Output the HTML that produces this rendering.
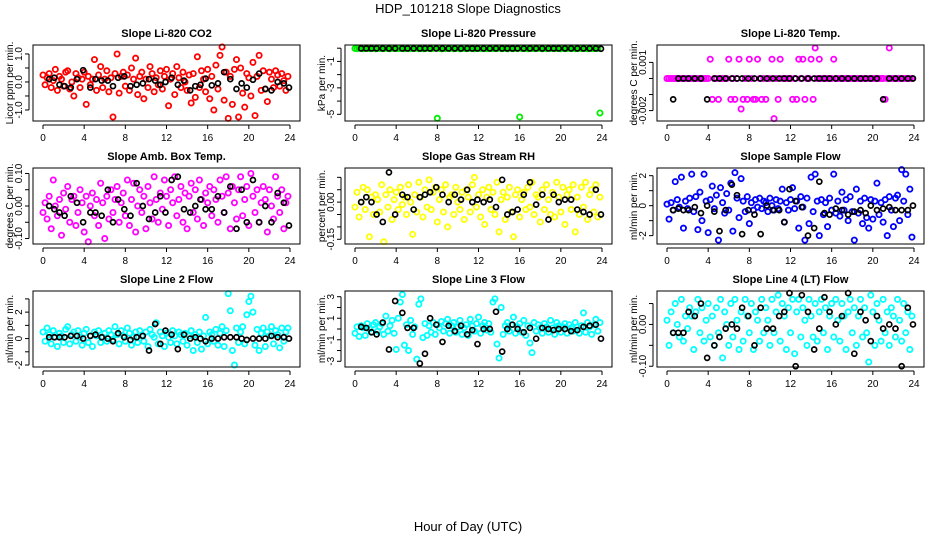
<!DOCTYPE html>
<html><head><meta charset="utf-8"><style>
body{margin:0;background:#fff;}
svg{display:block;font-family:"Liberation Sans",sans-serif;}
</style></head><body>
<svg id="chart" width="936" height="540" viewBox="0 0 936 540">
<text x="468" y="13" text-anchor="middle" font-size="13">HDP_101218  Slope Diagnostics</text>
<text x="468" y="531" text-anchor="middle" font-size="13">Hour of Day (UTC)</text>
</svg>
<script>
const hours=[0.0,0.2,0.4,0.6,0.8,1.0,1.2,1.4,1.6,1.8,2.0,2.2,2.4,2.6,2.8,3.0,3.2,3.4,3.6,3.8,4.0,4.2,4.4,4.6,4.8,5.0,5.2,5.4,5.6,5.8,6.0,6.2,6.4,6.6,6.8,7.0,7.2,7.4,7.6,7.8,8.0,8.2,8.4,8.6,8.8,9.0,9.2,9.4,9.6,9.8,10.0,10.2,10.4,10.6,10.8,11.0,11.2,11.4,11.6,11.8,12.0,12.2,12.4,12.6,12.8,13.0,13.2,13.4,13.6,13.8,14.0,14.2,14.4,14.6,14.8,15.0,15.2,15.4,15.6,15.8,16.0,16.2,16.4,16.6,16.8,17.0,17.2,17.4,17.6,17.8,18.0,18.2,18.4,18.6,18.8,19.0,19.2,19.4,19.6,19.8,20.0,20.2,20.4,20.6,20.8,21.0,21.2,21.4,21.6,21.8,22.0,22.2,22.4,22.6,22.8,23.0,23.2,23.4,23.6,23.8];
const blackHours=[0.6,1.1,1.6,2.1,2.7,3.3,3.9,4.6,5.1,5.7,6.3,6.8,7.3,7.9,8.5,9.1,9.7,10.3,10.9,11.4,11.9,12.5,13.1,13.7,14.3,14.8,15.3,15.8,16.4,17.0,17.6,18.2,18.8,19.3,19.8,20.4,21.0,21.6,22.2,22.8,23.4,23.9];
const xTicks=[0,4,8,12,16,20,24];

const co2=[0.25,-0.1,0.15,0.3,-0.2,0.05,0.45,-0.3,0.2,0.1,-0.15,0.35,
0.4,-0.25,0.0,-0.5,0.3,0.15,-0.2,0.1,0.35,-0.8,0.2,-0.1,
0.1,0.8,-0.3,0.25,0.55,-0.2,0.1,0.4,-0.35,0.15,-1.25,0.3,
1.0,-0.4,0.2,0.35,-0.15,0.25,-0.3,0.5,0.1,0.85,-0.45,0.2,
0.35,-0.6,0.1,-0.2,0.55,0.3,-0.35,0.15,-0.1,0.4,-0.25,0.2,
0.45,-0.85,0.1,0.3,-0.45,0.55,0.15,-0.2,0.35,0.0,-0.3,0.25,
-0.75,0.3,-0.55,0.9,-0.2,0.4,0.1,-0.35,0.45,-0.6,0.2,-1.0,
0.6,-0.25,0.95,1.25,-0.65,0.35,-1.3,0.2,-0.8,0.45,0.8,-1.25,
0.5,-0.4,-0.9,0.3,0.15,-0.5,0.7,-1.2,0.2,0.95,-0.3,0.4,
-0.25,-0.7,0.35,0.1,-0.2,0.4,0.25,-0.15,0.3,0.05,-0.3,0.2];
const co2Black=[0.1,0.15,-0.1,-0.15,-0.2,0.1,0.42,-0.2,0.1,0.05,0.05,-0.15,0.15,0.2,-0.15,-0.1,-0.05,0.1,0.05,-0.1,0.0,0.15,-0.1,0.05,-0.3,-0.15,-0.1,0.12,-0.12,-0.05,0.35,0.1,-0.25,-0.05,-0.2,0.08,0.3,-0.25,-0.3,0.0,-0.05,-0.2];

const pressure=[-0.02,-0.03,0,-0.01,-0.04,-0.02,0,-0.03,-0.01,-0.02,-0.04,0,
-0.02,-0.01,-0.03,0,-0.02,-0.04,-0.01,-0.02,0,-0.03,-0.02,-0.01,
-0.04,0,-0.02,-0.03,-0.01,-0.02,0,-0.03,-0.02,-0.04,-0.01,0,
-0.02,-0.03,-0.01,0,-5.3,-0.02,-0.04,-0.01,-0.03,0,-0.02,-0.01,
-0.03,-0.02,0,-0.04,-0.01,-0.02,-0.03,0,-0.02,-0.01,-0.04,-0.02,
0,-0.03,-0.01,-0.02,-0.04,0,-0.02,-0.03,-0.01,-0.02,0,-0.03,
-0.02,-0.01,-0.04,0,-0.02,-0.03,-0.01,-0.02,-5.2,-0.03,-0.02,-0.01,
-0.04,0,-0.02,-0.03,-0.01,0,-0.02,-0.04,-0.01,-0.03,0,-0.02,
-0.01,-0.03,-0.02,0,-0.04,-0.01,-0.02,-0.03,0,-0.02,-0.01,-0.04,
-0.02,0,-0.03,-0.01,-0.02,-0.04,0,-0.02,-0.03,-0.01,-0.02,-4.9];
const pressureBlack=[-0.02,-0.02,-0.02,-0.02,-0.02,-0.02,-0.02,-0.02,-0.02,-0.02,-0.02,-0.02,-0.02,-0.02,-0.02,-0.02,-0.02,-0.02,-0.02,-0.02,-0.02,-0.02,-0.02,-0.02,-0.02,-0.02,-0.02,-0.02,-0.02,-0.02,-0.02,-0.02,-0.02,-0.02,-0.02,-0.02,-0.02,-0.02,-0.02,-0.02,-0.02,-0.04];

const liTemp=[0,0,0,0,0,0,0,0,0,0,0,0,
0,0,0,0,0,0,0,0,0,0.0012,-0.0013,0,
0,-0.0013,0,0,0,0,0.0012,-0.0013,0,-0.0013,0,0.0012,
-0.0019,-0.0013,0,-0.0013,0.0012,0,-0.0013,-0.0013,0.0012,0,-0.0013,0,
-0.0013,0,0,0.0012,-0.0025,0,-0.0013,0.0012,0,0,0,0,
0,-0.0013,0,-0.0013,0.0012,0,0.0012,-0.0013,0,0,0.0012,-0.0013,
0.0019,0,0.0012,0,0,0,0,0,0,0.0012,0,0,
0,0,0,0,0,0,0,0,0,0,0,0,
0,0,0,0,0,0,0,0,0,0,-0.0013,0,
0.0019,0,0,0,0,0,0,0,0,0,0,0];
const liTempBlack=[-0.0013,0,0,0,0,0,-0.0013,0,0,0,0,0,0,0,0,0,0,0,0,0,0,0,0,0,0,0,0,0,0,0,0,0,0,0,0,0,-0.0013,0,0,0,0,0];

const ambTemp=[-0.02,0.01,-0.04,0.03,-0.07,0.08,0.0,-0.03,0.02,-0.09,0.04,-0.01,
0.06,-0.05,0.02,0.03,-0.06,-0.02,0.05,0.01,-0.08,0.03,-0.11,0.0,
0.04,-0.03,0.02,-0.06,0.07,0.01,-0.1,0.03,-0.04,0.05,-0.02,0.02,
0.06,-0.05,0.01,0.04,-0.03,0.08,-0.06,0.02,0.07,-0.08,0.0,0.05,
-0.02,0.03,-0.07,0.06,0.01,-0.04,0.09,0.02,-0.05,0.04,-0.01,0.08,
0.03,-0.06,0.05,0.01,0.09,-0.03,0.02,0.06,-0.05,0.04,-0.07,0.03,
0.07,-0.02,0.05,-0.04,0.08,0.02,-0.06,0.04,0.01,0.06,-0.03,0.05,
0.02,-0.05,0.08,0.03,-0.02,0.09,0.04,-0.07,0.06,0.01,-0.04,0.05,
0.09,-0.03,0.02,0.06,-0.06,0.1,0.03,-0.02,0.05,-0.05,0.01,0.06,
0.02,-0.08,0.05,0.0,-0.04,0.09,0.03,-0.02,0.05,-0.07,0.01,0.03];
const ambTempBlack=[0.0,-0.01,-0.02,-0.03,0.03,0.01,-0.05,-0.02,-0.02,-0.03,0.05,-0.05,0.02,-0.01,-0.03,0.07,0.0,-0.04,-0.02,0.03,-0.02,0.08,0.09,-0.01,-0.02,0.0,0.02,-0.01,-0.01,0.03,-0.02,0.06,-0.07,0.05,-0.05,0.08,-0.05,0.0,-0.05,0.04,0.01,-0.06];

const gasRH=[-0.02,0.04,-0.06,0.0,0.06,-0.03,0.05,-0.14,0.02,-0.05,0.03,0.01,
-0.04,0.07,-0.16,0.03,-0.02,0.05,-0.07,0.01,0.04,-0.03,0.06,-0.01,
0.02,-0.05,0.07,0.0,-0.13,0.03,-0.04,0.08,0.02,-0.06,0.05,-0.02,
0.09,-0.03,0.04,0.06,-0.08,0.01,0.05,-0.04,0.07,-0.1,0.02,0.03,
-0.05,0.06,0.0,-0.03,0.04,-0.07,0.05,0.02,-0.04,0.07,0.1,-0.02,
0.03,-0.06,0.05,-0.09,0.02,0.06,-0.03,0.04,-0.05,0.08,-0.12,0.01,
0.04,-0.07,0.02,0.06,-0.04,-0.14,0.03,0.05,-0.06,0.01,0.04,-0.03,
0.06,-0.02,0.08,-0.05,0.03,0.02,-0.08,0.05,-0.03,0.07,0.01,-0.05,
0.04,-0.06,0.08,0.02,-0.04,0.06,-0.09,0.03,0.05,-0.03,0.07,-0.12,
0.02,-0.05,0.06,-0.02,0.08,-0.07,0.03,0.05,-0.04,0.07,-0.06,0.02];
const gasRHBlack=[0.0,0.02,0.0,-0.05,-0.08,0.12,-0.05,0.03,0.02,-0.03,0.02,0.03,0.04,0.06,0.03,0.0,0.03,0.01,0.05,0.0,0.01,0.0,0.01,-0.02,0.09,-0.05,-0.04,-0.03,0.03,0.08,-0.01,0.03,-0.07,0.03,0.0,0.01,0.01,-0.03,-0.04,-0.05,0.05,-0.05];

const sampleFlow=[0.1,-0.9,0.2,-0.3,1.6,0.4,-0.1,1.9,-1.5,0.3,-0.2,0.5,
2.1,-0.4,0.6,-1.6,0.9,-1.0,2.1,0.3,-1.8,0.4,1.3,-0.2,
0.7,-2.3,1.2,0.2,-0.5,0.8,-0.3,1.5,-1.7,2.2,0.5,-0.8,
1.8,0.3,-0.4,0.6,-1.2,0.2,-0.3,0.4,-0.1,0.5,-0.2,0.3,
0.2,-0.4,0.5,0.0,-0.3,0.4,-0.2,0.3,1.1,-1.1,0.2,-0.3,
0.4,1.2,-0.2,0.3,-1.5,0.6,-0.1,-2.3,0.5,-1.2,1.9,-0.4,
2.1,0.3,-2.0,0.4,-0.6,0.2,-1.4,0.5,-0.3,2.1,-0.5,0.3,
-0.7,0.9,-0.3,0.4,-1.0,0.6,-0.4,-2.3,1.1,-0.5,0.3,-1.2,
0.5,-0.8,-1.5,0.4,-0.9,0.3,1.5,-0.6,0.2,-1.1,0.4,-2.0,
0.6,-0.3,-1.4,0.5,0.7,-1.0,2.4,0.3,2.1,-0.6,1.1,-2.1];
const sampleFlowBlack=[-0.3,-0.2,-0.3,-0.3,-0.1,-0.5,0.0,-0.4,-1.7,-0.3,1.4,0.7,-1.9,-0.3,-0.6,-1.9,0.0,-0.3,-0.3,-1.1,1.1,0.3,-0.1,-2.0,-1.5,1.6,-0.5,-0.6,-0.2,-0.3,-0.6,-0.4,-0.3,-0.5,0.0,-0.3,-0.2,-0.1,-0.3,-0.3,-0.3,0.0];

const line2=[0.5,-0.2,0.8,0.3,-0.4,0.6,0.1,-0.6,0.4,0.2,-0.3,0.7,
0.9,-0.4,0.3,0.5,-0.2,0.6,0.1,-0.5,0.4,0.7,-0.3,0.2,
-0.6,0.5,0.2,0.6,-0.3,0.1,0.4,-0.2,0.6,0.3,-0.1,0.9,
0.3,-0.4,0.6,0.2,-0.2,0.8,0.4,-0.5,0.1,0.5,-0.3,0.6,
0.2,-0.2,0.5,-0.6,0.7,0.3,0.1,1.2,-0.4,0.5,0.2,-0.6,
0.4,0.1,-0.3,0.6,0.2,-0.4,0.5,0.3,-0.2,0.4,-0.5,0.2,
0.6,-0.9,0.3,-0.3,0.5,-0.8,0.2,1.6,-0.4,0.5,0.3,-0.2,
0.7,-0.5,0.4,0.9,-0.6,0.6,3.4,2.1,-0.9,-2.0,0.8,-0.3,
0.5,0.9,-0.4,1.8,2.8,3.2,2.0,-0.5,0.7,-0.9,0.4,0.8,
-0.6,0.5,0.2,0.9,-0.4,0.6,0.3,-0.7,0.8,-0.2,0.5,0.8];
const line2Black=[0.1,0.1,0.1,0.1,0.2,0.2,0.0,0.2,0.3,0.1,0.0,-0.2,0.4,0.1,-0.1,0.1,0.2,-0.9,1.1,-0.4,0.6,0.3,-0.8,0.3,0.0,0.1,0.0,-0.2,0.0,0.0,0.1,0.1,0.1,0.0,-0.1,0.0,0.0,0.0,0.2,0.1,0.1,0.0];

const line3=[-0.4,0.2,-0.7,0.3,0.1,-0.6,0.5,0.0,-0.3,0.4,0.6,-0.2,
0.2,0.5,-0.5,1.2,-0.2,0.3,0.8,-0.4,-1.9,1.0,2.5,3.2,
-1.5,0.4,-2.0,0.8,-0.5,0.2,-2.8,2.3,2.8,-0.8,0.5,-0.6,
0.3,-0.3,0.6,-0.5,0.4,0.1,0.7,-0.2,0.5,0.9,-0.4,0.3,
0.6,-0.3,0.2,0.8,-0.5,0.1,0.4,-0.6,0.9,0.3,-0.2,0.5,
1.1,-0.4,0.3,0.6,-0.1,0.5,-0.3,2.5,2.8,-1.4,-2.7,2.0,
-0.5,0.3,0.6,-0.2,0.4,1.1,-0.4,0.2,0.5,-0.3,0.8,-0.6,
0.3,-1.3,-2.2,0.6,-0.2,0.4,0.1,-0.4,0.5,0.2,-0.3,0.8,
0.1,-0.5,0.6,0.3,-0.3,0.2,0.5,-0.4,0.4,0.1,-0.2,0.6,
0.2,-0.4,0.3,1.5,-0.3,0.6,0.2,-0.5,0.4,0.9,-0.2,0.6];
const line3Black=[0.2,0.1,-0.3,-0.5,0.6,-1.9,2.6,1.5,0.1,0.1,-3.2,-2.3,1.0,0.4,-1.2,0.3,-0.2,0.3,-0.5,-0.1,-1.4,0.0,0.0,1.6,-2.1,0.0,0.4,0.0,-0.3,0.1,-0.9,0.1,0.0,-0.1,0.0,0.0,-0.2,-0.1,0.2,0.3,0.4,-0.9];

const line4=[0.01,-0.05,0.03,-0.02,0.05,0.0,-0.03,0.06,-0.04,0.02,-0.01,0.04,
0.02,-0.06,0.03,0.06,-0.02,0.04,-0.04,0.01,0.05,-0.03,0.02,-0.05,
0.04,-0.02,0.06,-0.08,0.03,0.0,-0.05,0.05,-0.03,0.06,0.01,-0.06,
0.03,-0.04,0.06,0.02,-0.02,0.05,-0.06,0.03,0.01,-0.04,0.06,-0.02,
0.04,0.01,-0.05,0.06,-0.02,0.03,0.07,-0.04,0.05,0.02,-0.06,0.04,
-0.02,0.06,-0.07,0.03,0.06,-0.03,0.04,0.01,-0.05,0.06,0.02,-0.03,
0.05,-0.04,0.03,0.06,-0.02,0.04,-0.06,0.02,0.05,-0.03,0.06,0.01,
-0.04,0.05,0.02,-0.06,0.03,0.06,-0.02,0.04,-0.05,0.02,0.06,-0.03,
0.04,-0.02,-0.09,0.07,0.03,-0.05,0.05,0.01,-0.04,0.06,-0.02,0.03,
-0.05,0.04,0.02,-0.03,0.06,0.01,-0.04,0.05,-0.02,0.03,-0.06,0.02];
const line4Black=[-0.02,-0.02,-0.02,0.03,0.02,0.05,-0.08,-0.05,-0.03,-0.01,0.0,-0.01,0.04,0.02,-0.05,0.04,-0.01,-0.01,0.02,0.03,0.075,-0.1,0.07,0.03,-0.06,-0.01,0.065,0.03,0.0,0.02,0.075,-0.07,0.03,0.01,-0.04,0.02,-0.01,0.0,-0.01,-0.1,0.04,0.0];

const co2Ticks=[1,0.5,0,-0.5,-1], co2Labels=['1.0','','0.0','','-1.0'];
const pressureTicks=[0,-1,-2,-3,-4,-5], pressureLabels=['','-1','','-3','','-5'];
const liTempTicks=[0.001,0,-0.001,-0.002], liTempLabels=['0.001','','','-0.002'];
const ambTicks=[0.1,0.05,0,-0.05,-0.1], ambLabels=['0.10','','0.00','','-0.10'];
const rhTicks=[0.1,0.05,0,-0.05,-0.1,-0.15], rhLabels=['','','0.00','','','-0.15'];
const sfTicks=[2,1,0,-1,-2], sfLabels=['2','','0','','-2'];
const l2Ticks=[3,2,1,0,-1,-2], l2Labels=['','2','','0','','-2'];
const l3Ticks=[3,2,1,0,-1,-2,-3], l3Labels=['3','','1','','-1','','-3'];
const l4Ticks=[0.05,0,-0.05,-0.1], l4Labels=['','0.00','','-0.10'];

const panels=[
 {name:'co2',title:'Slope Li-820 CO2',ylab:'Licor ppm per min.',col:'#ff0000',v:co2,b:co2Black,t:co2Ticks,l:co2Labels,ref:[1,0.118,-1,0.855]},
 {name:'pressure',title:'Slope Li-820 Pressure',ylab:'kPa per min.',col:'#00ee00',v:pressure,b:pressureBlack,t:pressureTicks,l:pressureLabels,ref:[0,0.042,-5,0.912]},
 {name:'li-temp',title:'Slope Li-820 Temp.',ylab:'degrees C per min.',col:'#ff00ff',v:liTemp,b:liTempBlack,t:liTempTicks,l:liTempLabels,ref:[0.001,0.229,-0.002,0.863]},
 {name:'amb-temp',title:'Slope Amb. Box Temp.',ylab:'degrees C per min.',col:'#ff00ff',v:ambTemp,b:ambTempBlack,t:ambTicks,l:ambLabels,ref:[0.1,0.072,-0.1,0.928]},
 {name:'gas-rh',title:'Slope Gas Stream RH',ylab:'percent per min.',col:'#ffff00',v:gasRH,b:gasRHBlack,t:rhTicks,l:rhLabels,ref:[0,0.449,-0.15,0.938]},
 {name:'sample-flow',title:'Slope Sample Flow',ylab:'ml/min per min.',col:'#0000ff',v:sampleFlow,b:sampleFlowBlack,t:sfTicks,l:sfLabels,ref:[2,0.101,-2,0.89]},
 {name:'line2-flow',title:'Slope Line 2 Flow',ylab:'ml/min per min.',col:'#00ffff',v:line2,b:line2Black,t:l2Ticks,l:l2Labels,ref:[2,0.278,-2,0.974]},
 {name:'line3-flow',title:'Slope Line 3 Flow',ylab:'ml/min per min.',col:'#00ffff',v:line3,b:line3Black,t:l3Ticks,l:l3Labels,ref:[3,0.075,-3,0.925]},
 {name:'line4-flow',title:'Slope Line 4 (LT) Flow',ylab:'ml/min per min.',col:'#00ffff',v:line4,b:line4Black,t:l4Ticks,l:l4Labels,ref:[0,0.44,-0.1,0.99]}
];

const NS='http://www.w3.org/2000/svg';
const svg=document.getElementById('chart');
function mk(tag,attrs,parent){const e=document.createElementNS(NS,tag);for(const k in attrs)e.setAttribute(k,attrs[k]);parent.appendChild(e);return e;}

panels.forEach((p,i)=>{
 const col=i%3,row=Math.floor(i/3);
 const L=33+312*col,T=45+123*row,W=267,H=76;
 const xs=h=>L+10+h*(W-20)/24;
 const [v1,f1,v2,f2]=p.ref;
 const ys=v=>T+H*(f1+(v-v1)*(f2-f1)/(v2-v1));
 const g=mk('g',{},svg);
 
 
 const ti=mk('text',{x:L+W/2,y:T-8,'text-anchor':'middle','font-size':'11','font-weight':'bold'},g);
 ti.textContent=p.title;
 
 
 const yl=mk('text',{x:0,y:0,'text-anchor':'middle','font-size':'10',transform:`translate(${L-20},${T+H/2}) rotate(-90)`},g);
 yl.textContent=p.ylab;
 
 
 const dots=mk('g',{fill:'none','stroke-width':'1.8'},g);
 
 
 p.v.forEach((v,k)=>{
  const c=mk('circle',{cx:xs(hours[k]),cy:ys(v),r:2.6,stroke:p.col},dots);
  
  
 });
 const bd=mk('g',{fill:'none','stroke-width':'1.7'},g);
 
 
 p.b.forEach((v,k)=>{
  const c=mk('circle',{cx:xs(blackHours[k]),cy:ys(v),r:2.5,stroke:'#000'},bd);
  
  
 });
 const box=mk('rect',{x:L,y:T,width:W,height:H,fill:'none',stroke:'#000','stroke-width':'1'},g);
 
 
 const xa=mk('g',{},g);
 
 
 mk('line',{x1:xs(0),x2:xs(24),y1:T+H+4,y2:T+H+4,stroke:'#000'},xa);
 xTicks.forEach(t=>{
  mk('line',{x1:xs(t),x2:xs(t),y1:T+H+4,y2:T+H+8,stroke:'#000'},xa);
  const tx=mk('text',{x:xs(t),y:T+H+20,'text-anchor':'middle','font-size':'10'},xa);
  tx.textContent=t;
  
  
 });
 const ya=mk('g',{},g);
 
 
 const tmin=Math.min(...p.t),tmax=Math.max(...p.t);
 mk('line',{x1:L-4,x2:L-4,y1:ys(tmax),y2:ys(tmin),stroke:'#000'},ya);
 p.t.forEach((t,k)=>{
  mk('line',{x1:L-8,x2:L-4,y1:ys(t),y2:ys(t),stroke:'#000'},ya);
  if(p.l[k]){
   const tx=mk('text',{x:0,y:0,'text-anchor':'middle','font-size':'10',transform:`translate(${L-11},${ys(t)}) rotate(-90)`},ya);
   tx.textContent=p.l[k];
   
   
  }
 });
});
</script>
</body></html>
